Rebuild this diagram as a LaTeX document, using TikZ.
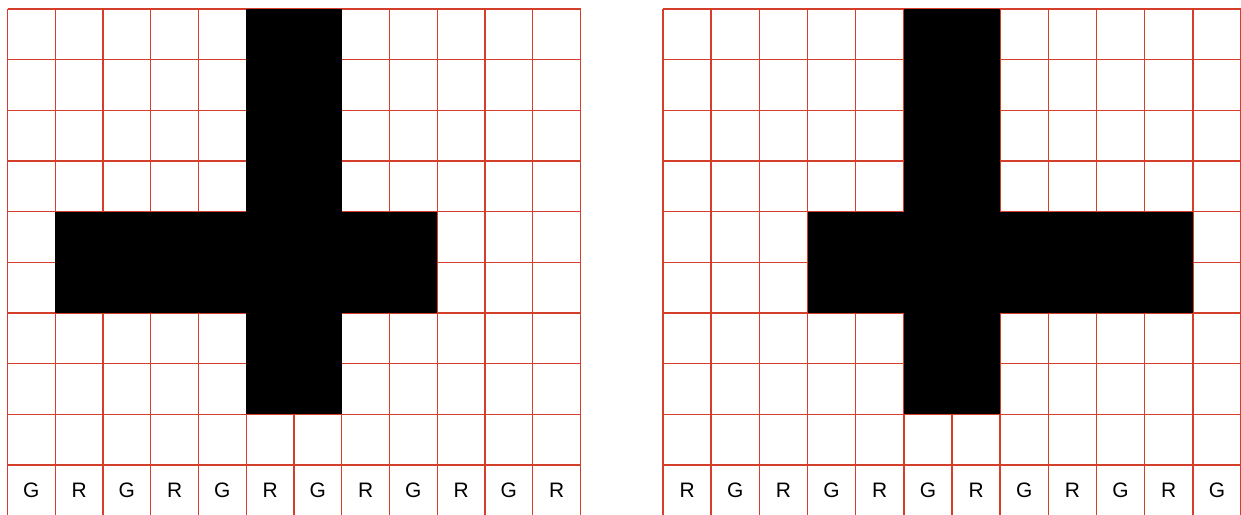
\documentclass[tikz,border=0pt]{standalone}
\usepackage{fontspec}
\setmainfont{Liberation Sans}
\definecolor{gridred}{RGB}{214,62,44}
\tikzset{
  gridline/.style={draw=gridred, line width=1.4bp},
  blackpart/.style={fill=black},
  lab/.style={font=\fontsize{21}{25}\selectfont, inner sep=0pt, anchor=center}
}
\begin{document}
\begin{tikzpicture}[x=1bp,y=-1bp]
\useasboundingbox (0,0) rectangle (1241,515);
\fill[white] (0,0) rectangle (1241,515);
% parameters
\def\top{9}
\def\dy{50.67}
% ---------- left grid ----------
\def\xa{7.5}
\def\dxa{47.75}
\foreach \i in {0,...,12} {
  \draw[gridline] ({\xa+\i*\dxa},\top) -- ({\xa+\i*\dxa},516);
}
\foreach \j in {0,...,9} {
  \draw[gridline] (\xa,{\top+\j*\dy}) -- ({\xa+12*\dxa},{\top+\j*\dy});
}
\fill[blackpart] ({\xa+5*\dxa},\top) rectangle ({\xa+7*\dxa},{\top+8*\dy});
\fill[blackpart] ({\xa+1*\dxa},{\top+4*\dy}) rectangle ({\xa+9*\dxa},{\top+6*\dy});
\foreach \l [count=\k from 0] in {G,R,G,R,G,R,G,R,G,R,G,R} {
  \node[lab] (L\k) at ({\xa+(\k+0.5)*\dxa},{\top+9.5*\dy}) {\l};
}
% ---------- right grid ----------
\def\xb{663}
\def\dxb{48.17}
\foreach \i in {0,...,12} {
  \draw[gridline] ({\xb+\i*\dxb},\top) -- ({\xb+\i*\dxb},516);
}
\foreach \j in {0,...,9} {
  \draw[gridline] (\xb,{\top+\j*\dy}) -- ({\xb+12*\dxb},{\top+\j*\dy});
}
\fill[blackpart] ({\xb+5*\dxb},\top) rectangle ({\xb+7*\dxb},{\top+8*\dy});
\fill[blackpart] ({\xb+3*\dxb},{\top+4*\dy}) rectangle ({\xb+11*\dxb},{\top+6*\dy});
\foreach \l [count=\k from 0] in {R,G,R,G,R,G,R,G,R,G,R,G} {
  \node[lab] (Rt\k) at ({\xb+(\k+0.5)*\dxb},{\top+9.5*\dy}) {\l};
}
\end{tikzpicture}
\end{document}
